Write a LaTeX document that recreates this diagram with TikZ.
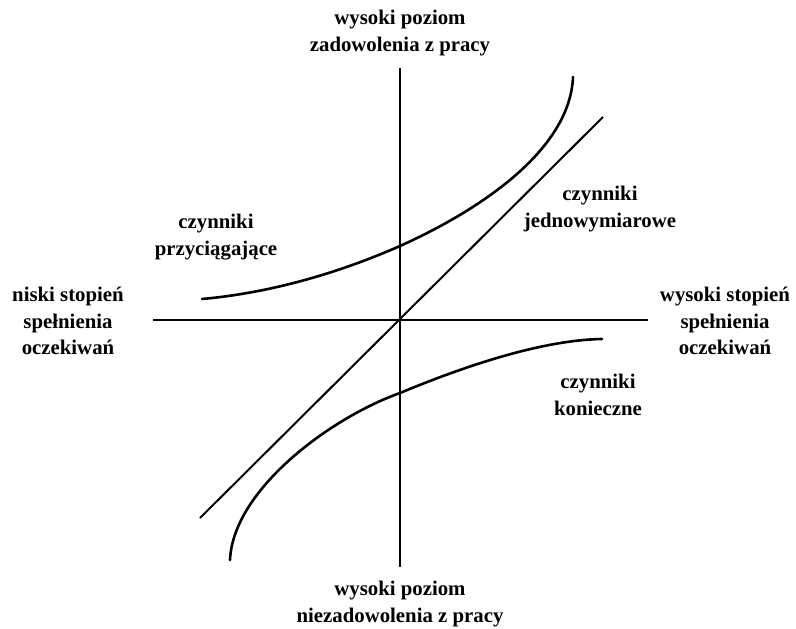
\documentclass[tikz,border=0pt]{standalone}
\usepackage{fontspec}
\setmainfont{Liberation Serif}
\begin{document}
\begin{tikzpicture}[x=1pt,y=-1pt,
  lbl/.style={font=\fontsize{20.8}{26.5}\selectfont\bfseries, align=center, inner sep=0pt},
  axis/.style={line width=1.5pt},
  curve/.style={line width=2.6pt, line cap=round},
  diag/.style={line width=2pt}]
\useasboundingbox (0,0) rectangle (796,629);
% axes
\coordinate (vt) at (400,68);
\coordinate (vb) at (400,567);
\coordinate (hl) at (153,320);
\coordinate (hr) at (648,320);
\draw[axis] (vt) -- (vb);
\draw[axis] (hl) -- (hr);
% diagonal
\coordinate (d1) at (200,518);
\coordinate (d2) at (603,117);
\draw[diag] (d1) -- (d2);
% upper curve (attractive factors)
\coordinate (u1) at (202,299);
\coordinate (u2) at (400,246);
\coordinate (u3) at (573,77);
\draw[curve] (u1) .. controls (280,292) and (350,268) .. (u2)
                  .. controls (480,210) and (570,150) .. (u3);
% lower curve (must-be factors)
\coordinate (l1) at (230,560);
\coordinate (l2) at (400,393);
\coordinate (l3) at (602,339);
\draw[curve] (l1) .. controls (233,490) and (330,418) .. (l2)
                  .. controls (460,368) and (540,340) .. (l3);
% labels
\node[lbl] (top) at (400,33) {wysoki poziom\\zadowolenia z pracy};
\node[lbl] (bot) at (400,604) {wysoki poziom\\niezadowolenia z pracy};
\node[lbl] (left) at (68,321) {niski stopień\\spełnienia\\oczekiwań};
\node[lbl] (right) at (725,321) {wysoki stopień\\spełnienia\\oczekiwań};
\node[lbl] (attr) at (216,237) {czynniki\\przyciągające};
\node[lbl] (one) at (600,209) {czynniki\\jednowymiarowe};
\node[lbl] (must) at (598,395) {czynniki\\konieczne};
\end{tikzpicture}
\end{document}
